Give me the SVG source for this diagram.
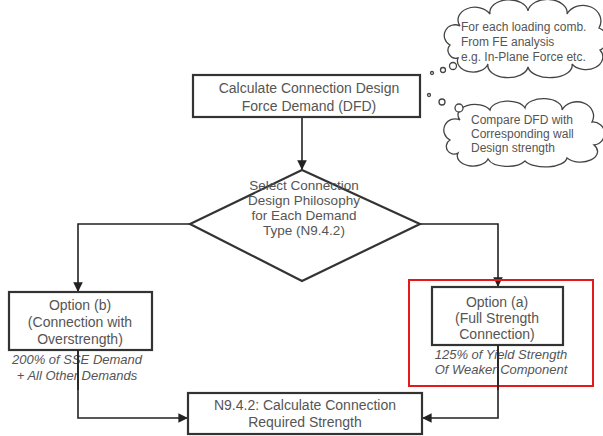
<svg xmlns="http://www.w3.org/2000/svg" width="603" height="436" viewBox="0 0 603 436">
<defs>
<style>
.box{fill:#fff;stroke:#333;stroke-width:2.2}
.cloud{fill:#fff;stroke:#444;stroke-width:1.3}
.t{font-family:"Liberation Sans",Arial,sans-serif;font-size:14px;fill:#555;text-anchor:middle}
.dt{font-family:"Liberation Sans",Arial,sans-serif;font-size:13.5px;fill:#555;text-anchor:middle}
.ct{font-family:"Liberation Sans",Arial,sans-serif;font-size:12px;fill:#555}
.it{font-family:"Liberation Sans",Arial,sans-serif;font-size:13px;font-style:italic;fill:#555;text-anchor:middle}
.ln{fill:none;stroke:#222;stroke-width:1.6}
</style>
<marker id="ah" viewBox="0 0 10 10" refX="9" refY="5" markerWidth="6" markerHeight="6" orient="auto">
<path d="M0,0 L10,5 L0,10 Z" fill="#222"/>
</marker>
</defs>
<rect width="603" height="436" fill="#fff"/>

<g id="cloud1">
<path class="cloud" d="M450,45 A10 10 0 0 1 460,26 A16 12 0 0 1 490,14 A18 12 0 0 1 528,11 A18 12 0 0 1 567,14 A16 14 0 0 1 599,28 A12 12 0 0 1 600,50 A16 12 0 0 1 572,64 A22 12 0 0 1 528,67 A20 12 0 0 1 488,64 A14 10 0 0 1 458,58 A8 8 0 0 1 450,45 Z"/>
<circle class="cloud" cx="432" cy="73" r="1.5"/>
<circle class="cloud" cx="443" cy="70" r="2.5"/>
<circle class="cloud" cx="453" cy="66" r="3.5"/>
<text class="ct" x="461" y="31">For each loading comb.</text>
<text class="ct" x="461" y="46">From FE analysis</text>
<text class="ct" x="461" y="61">e.g. In-Plane Force etc.</text>
</g>

<g id="cloud2">
<path class="cloud" d="M450,140 A9 9 0 0 1 460,120 A16 10 0 0 1 490,110 A18 10 0 0 1 525,108 A18 10 0 0 1 562,110 A14 12 0 0 1 592,122 A10 10 0 0 1 594,145 A16 10 0 0 1 567,158 A22 10 0 0 1 525,161 A20 10 0 0 1 488,159 A14 9 0 0 1 458,153 A7 7 0 0 1 450,140 Z"/>
<circle class="cloud" cx="429" cy="95" r="1.5"/>
<circle class="cloud" cx="442" cy="102" r="3"/>
<circle class="cloud" cx="459" cy="108" r="4"/>
<text class="ct" x="471" y="124">Compare DFD with</text>
<text class="ct" x="471" y="138">Corresponding wall</text>
<text class="ct" x="471" y="152">Design strength</text>
</g>

<g id="connectors">
<line class="ln" x1="302" y1="117" x2="302" y2="169" marker-end="url(#ah)"/>
<polyline class="ln" points="190,224 78,224 78,291" marker-end="url(#ah)"/>
<polyline class="ln" points="420,224 498,224 498,286" marker-end="url(#ah)"/>
<polyline class="ln" points="78,350 78,418 187,418" marker-end="url(#ah)"/>
<polyline class="ln" points="498,345 498,418 423,418" marker-end="url(#ah)"/>
</g>

<g id="demand">
<rect class="box" x="193" y="75" width="227" height="42"/>
<text class="t" x="309" y="93">Calculate Connection Design</text>
<text class="t" x="309" y="111">Force Demand (DFD)</text>
</g>

<g id="philosophy">
<polygon class="box" points="302,170 420,224 302,281 190,224"/>
<text class="dt" x="304" y="190">Select Connection</text>
<text class="dt" x="304" y="205">Design Philosophy</text>
<text class="dt" x="304" y="220">for Each Demand</text>
<text class="dt" x="304" y="235">Type (N9.4.2)</text>
</g>

<g id="optionB">
<rect class="box" x="9" y="292" width="143" height="58"/>
<text class="t" x="80" y="310">Option (b)</text>
<text class="t" x="80" y="327">(Connection with</text>
<text class="t" x="80" y="344">Overstrength)</text>
<text class="it" x="77" y="364">200% of SSE Demand</text>
<text class="it" x="77" y="380">+ All Other Demands</text>
</g>

<g id="optionA">
<rect class="box" x="432" y="287" width="131" height="58"/>
<text class="t" x="497" y="307">Option (a)</text>
<text class="t" x="497" y="323">(Full Strength</text>
<text class="t" x="497" y="339">Connection)</text>
<text class="it" x="501" y="359">125% of Yield Strength</text>
<text class="it" x="501" y="374">Of Weaker Component</text>
</g>

<g id="required">
<rect class="box" x="188" y="393" width="234" height="41"/>
<text class="t" x="305" y="410">N9.4.2: Calculate Connection</text>
<text class="t" x="305" y="427">Required Strength</text>
</g>

<rect x="409" y="280" width="184" height="106" fill="none" stroke="#e21a1a" stroke-width="2"/>
<line class="ln" x1="498" y1="345" x2="498" y2="390"/>
<line class="ln" x1="78" y1="350" x2="78" y2="390"/>
</svg>
